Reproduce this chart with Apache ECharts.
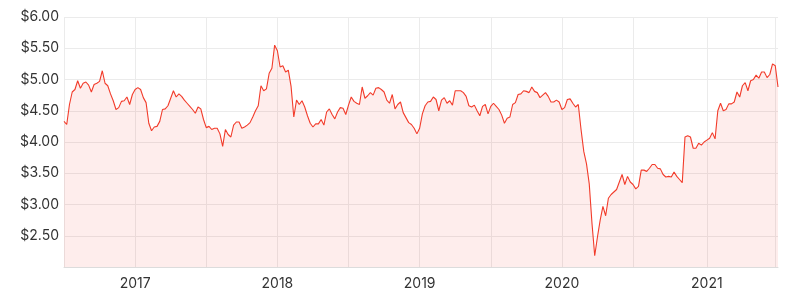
<!DOCTYPE html>
<html><head><meta charset="utf-8">
<script src="https://cdn.jsdelivr.net/npm/echarts@6/dist/echarts.min.js"></script>
<style>html,body{margin:0;padding:0;background:#fff}#c{width:790px;height:298px}</style>
</head><body><div id="c"></div>
<script>
// Weekly closing prices (first week starts 2016-07-04)
const startDate = '2016-07-04';
const stepDays = 7;
const price2016H2 = [4.33,4.28,4.60,4.80,4.84,4.98,4.86,4.94,4.96,4.91,4.80,4.92,4.94,4.97,5.14,4.94,4.90,4.77,4.66,4.52,4.55,4.65,4.66,4.72,4.60,4.76];
const price2017 = [4.84,4.87,4.84,4.71,4.63,4.30,4.18,4.24,4.25,4.33,4.52,4.53,4.58,4.70,4.82,4.72,4.77,4.73,4.67,4.62,4.57,4.52,4.46,4.56,4.53,4.36,4.23,4.25,4.20,4.22,4.22,4.13,3.93,4.20,4.12,4.08,4.27,4.32,4.32,4.22,4.24,4.27,4.31,4.40,4.50,4.58,4.90,4.82,4.85,5.10,5.18,5.55];
const price2018 = [5.46,5.20,5.22,5.12,5.15,4.89,4.40,4.67,4.60,4.66,4.56,4.42,4.30,4.24,4.29,4.29,4.36,4.27,4.48,4.53,4.44,4.37,4.48,4.55,4.54,4.44,4.59,4.72,4.65,4.62,4.60,4.88,4.70,4.74,4.79,4.75,4.86,4.87,4.84,4.80,4.67,4.62,4.76,4.53,4.60,4.64,4.47,4.39,4.31,4.28,4.22,4.13];
const price2019 = [4.22,4.45,4.58,4.64,4.65,4.72,4.68,4.50,4.67,4.71,4.62,4.66,4.59,4.82,4.82,4.82,4.79,4.73,4.58,4.56,4.59,4.50,4.42,4.57,4.60,4.45,4.57,4.62,4.57,4.52,4.43,4.30,4.38,4.40,4.60,4.63,4.76,4.77,4.82,4.81,4.79,4.88,4.81,4.79,4.71,4.75,4.79,4.73,4.64,4.64,4.67,4.64];
const price2020 = [4.52,4.55,4.68,4.69,4.62,4.56,4.60,4.20,3.85,3.65,3.33,2.70,2.18,2.48,2.75,2.97,2.82,3.10,3.16,3.20,3.24,3.36,3.48,3.32,3.45,3.36,3.32,3.25,3.29,3.55,3.55,3.53,3.58,3.64,3.64,3.58,3.57,3.48,3.44,3.45,3.44,3.52,3.45,3.40,3.35,4.08,4.10,4.08,3.90,3.90,3.98,3.95];
const price2021H1 = [4.00,4.03,4.06,4.15,4.05,4.50,4.62,4.50,4.52,4.61,4.61,4.64,4.80,4.72,4.90,4.95,4.82,4.98,5.00,5.07,5.02,5.12,5.12,5.03,5.08,5.25,5.22,4.88];
const yMin = 2, yMax = 6, yStep = 0.5;

const prices = [].concat(price2016H2, price2017, price2018, price2019, price2020, price2021H1);
const DAY = 864e5;
const t0 = Date.parse(startDate + 'T00:00:00Z');
const dates = prices.map((_, i) => new Date(t0 + i * stepDays * DAY).toISOString().slice(0, 10));

function boundary(value, months) {
  const t = Date.parse(value + 'T00:00:00Z');
  const a = new Date(t - 3.5 * DAY), b = new Date(t + 3.5 * DAY);
  return a.getUTCMonth() !== b.getUTCMonth() && months.indexOf(b.getUTCMonth()) >= 0;
}
function yearOf(value) {
  return new Date(Date.parse(value + 'T00:00:00Z') + 3.5 * DAY).getUTCFullYear();
}

const chart = echarts.init(document.getElementById('c'), null, {renderer: 'canvas'});
chart.setOption({
  animation: false,
  grid: {left: 64, right: 12, top: 17, bottom: 31, containLabel: false},
  xAxis: {
    type: 'category',
    data: dates,
    boundaryGap: false,
    axisTick: {show: false},
    axisLine: {show: true, lineStyle: {color: '#dcdcdc', width: 1}},
    axisLabel: {
      interval: (i, v) => boundary(v, [0]),
      formatter: (v) => String(yearOf(v)),
      color: '#333', fontFamily: 'Inter', fontSize: 14, margin: 10
    },
    splitLine: {show: true, interval: (i, v) => boundary(v, [0, 6]), lineStyle: {color: '#ebebeb', width: 1}}
  },
  yAxis: {
    type: 'value',
    min: yMin, max: yMax, interval: yStep,
    axisLine: {show: false},
    axisTick: {show: false},
    axisLabel: {
      showMinLabel: false,
      formatter: (v) => '$' + v.toFixed(2),
      color: '#333', fontFamily: 'Inter', fontSize: 14, margin: 5
    },
    splitLine: {lineStyle: {color: '#ebebeb', width: 1}}
  },
  series: [{
    type: 'line',
    data: prices,
    showSymbol: false,
    symbol: 'none',
    lineStyle: {color: '#f23b2a', width: 1.1},
    itemStyle: {color: '#f23b2a'},
    areaStyle: {color: 'rgba(242,59,42,0.13)'}
  }]
});
</script></body></html>
